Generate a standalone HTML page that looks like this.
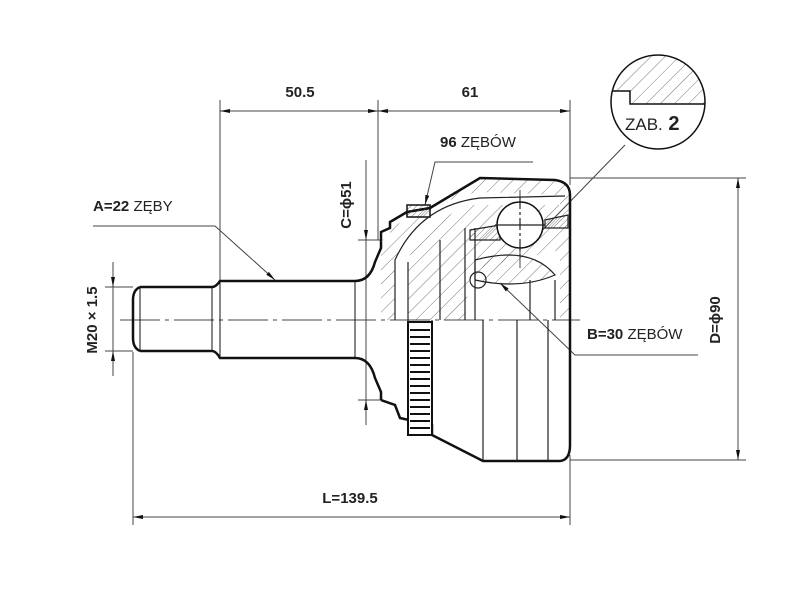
<!DOCTYPE html>
<html><head><meta charset="utf-8"><style>
html,body{margin:0;padding:0;background:#fff;}
svg{display:block}
text{font-family:"Liberation Sans Narrow","Liberation Sans",sans-serif;fill:#222}
</style></head><body>
<svg width="800" height="600" viewBox="0 0 800 600" xmlns="http://www.w3.org/2000/svg">
<defs>
<pattern id="h" width="10" height="10" patternUnits="userSpaceOnUse" patternTransform="rotate(45)">
<line x1="0" y1="0" x2="0" y2="10" stroke="#555" stroke-width="0.8"/></pattern>
<pattern id="h2" width="4" height="4" patternUnits="userSpaceOnUse" patternTransform="rotate(45)">
<line x1="0" y1="0" x2="0" y2="4" stroke="#555" stroke-width="0.8"/></pattern>
<marker id="a" viewBox="0 0 10 6" refX="10" refY="3" markerWidth="10" markerHeight="6" orient="auto-start-reverse"><path d="M0,1 L10,3 L0,5z" fill="#111"/></marker>
</defs>
<rect width="800" height="600" fill="#fff"/>
<g stroke="#444" stroke-width="1" fill="none">
<!-- extension lines -->
<line x1="220" y1="100" x2="220" y2="280"/>
<line x1="378" y1="100" x2="378" y2="240"/>
<line x1="570" y1="100" x2="570" y2="185"/>
<line x1="133" y1="352" x2="133" y2="525"/>
<line x1="570" y1="455" x2="570" y2="525"/>
<line x1="570" y1="178" x2="746" y2="178"/>
<line x1="570" y1="460" x2="746" y2="460"/>
<line x1="105" y1="287" x2="133" y2="287"/>
<line x1="105" y1="351" x2="133" y2="351"/>
<line x1="358" y1="240" x2="381" y2="240"/>
<line x1="358" y1="400" x2="381" y2="400"/>
<!-- dimension lines -->
<line x1="220" y1="111" x2="378" y2="111" marker-start="url(#a)" marker-end="url(#a)"/>
<line x1="378" y1="111" x2="570" y2="111" marker-start="url(#a)" marker-end="url(#a)"/>
<line x1="133" y1="517" x2="570" y2="517" marker-start="url(#a)" marker-end="url(#a)"/>
<line x1="738" y1="178" x2="738" y2="460" marker-start="url(#a)" marker-end="url(#a)"/>
<line x1="113" y1="262" x2="113" y2="287" marker-end="url(#a)"/>
<line x1="113" y1="376" x2="113" y2="351" marker-end="url(#a)"/>
<line x1="113" y1="287" x2="113" y2="351"/>
<line x1="366" y1="160" x2="366" y2="240" marker-end="url(#a)"/>
<line x1="366" y1="425" x2="366" y2="400" marker-end="url(#a)"/>
<line x1="366" y1="240" x2="366" y2="400"/>
<!-- leaders -->
<polyline points="93,226 215,226 275,280" marker-end="url(#a)"/>
<polyline points="533,162 435,162 425,205" marker-end="url(#a)"/>
<polyline points="698,355 575,355 500,283" marker-end="url(#a)"/>
<line x1="528" y1="245" x2="625" y2="145"/>
<!-- centerline -->
<line x1="120" y1="320" x2="580" y2="320" stroke-dasharray="40,5,4,5"/>
<line x1="520" y1="190" x2="520" y2="270" stroke-dasharray="20,3,3,3"/>
</g>
<!-- shaft -->
<g stroke="#111" stroke-width="2.5" fill="none">
<path d="M140,287 L212,287 Q216,287 220,281 L355,281 Q370,281 375,262 L381,248 L381,240 M140,351 L212,351 Q216,351 220,358 L355,358 Q370,358 375,378 L381,392 L381,400"/>
<path d="M140,287 Q133,290 133,300 L133,338 Q133,348 140,351"/>
<line x1="140" y1="287" x2="140" y2="351" stroke-width="1"/>
<line x1="212" y1="287" x2="212" y2="351" stroke-width="1"/>
<line x1="220" y1="281" x2="220" y2="358" stroke-width="1"/>
<line x1="355" y1="281" x2="355" y2="358" stroke-width="1"/>
</g>
<!-- housing upper hatched section -->
<path d="M381,240 L390,238 L390,225 L407,222 L407,212 L430,208 L480,178 L555,180 L570,187 L570,320 L560,320 L560,250 L470,270 L465,320 L408,320 L408,260 Q420,225 470,205 L560,205 L560,195 L480,192 Q420,200 395,260 L395,320 L381,320 Z" fill="url(#h)" stroke="none"/>
<path d="M381,240 L381,232 L390,228 L390,222 L407,212 L430,208 L480,178 L555,180 Q570,182 570,195 L570,445 Q570,460 560,461 L483,461 L432,435 L432,425 L400,418 L395,405 L381,400" stroke="#111" stroke-width="2.5" fill="none"/>
<rect x="407" y="205" width="23" height="12" fill="url(#h2)" stroke="#111" stroke-width="1.5"/>
<!-- inner section -->
<g stroke="#222" stroke-width="1.2" fill="none">
<path d="M395,320 L395,260 Q420,205 480,198 L565,196"/>
<line x1="408" y1="262" x2="408" y2="435"/>
<line x1="440" y1="240" x2="440" y2="320"/>
<line x1="465" y1="228" x2="465" y2="320"/>
<line x1="475" y1="228" x2="475" y2="320"/>
<line x1="483" y1="320" x2="483" y2="461"/>
<line x1="517" y1="320" x2="517" y2="461"/>
<line x1="548" y1="320" x2="548" y2="461"/>
<line x1="530" y1="280" x2="530" y2="320"/>
<line x1="555" y1="280" x2="555" y2="320"/>
<line x1="432" y1="320" x2="432" y2="435"/>
<path d="M475,260 Q530,245 555,275 Q520,290 475,280 Z" fill="url(#h)"/>
<path d="M470,230 L500,225 L500,240 L470,240 Z" fill="url(#h2)"/>
<path d="M545,220 L568,215 L568,228 L545,228 Z" fill="url(#h2)"/>
<circle cx="520" cy="225" r="23" fill="#fff" stroke="#111" stroke-width="1.5"/>
<line x1="520" y1="197" x2="520" y2="255" stroke-dasharray="12,3,3,3"/>
<line x1="495" y1="225" x2="545" y2="225"/>
<circle cx="478" cy="280" r="8"/>
</g>
<!-- ABS ring -->
<rect x="408" y="322" width="24" height="113" fill="#fff" stroke="#111" stroke-width="2"/>
<g stroke="#111" stroke-width="2">
<line x1="410" y1="330" x2="430" y2="330"/><line x1="410" y1="337" x2="430" y2="337"/><line x1="410" y1="344" x2="430" y2="344"/><line x1="410" y1="351" x2="430" y2="351"/><line x1="410" y1="358" x2="430" y2="358"/><line x1="410" y1="365" x2="430" y2="365"/><line x1="410" y1="372" x2="430" y2="372"/><line x1="410" y1="379" x2="430" y2="379"/><line x1="410" y1="386" x2="430" y2="386"/><line x1="410" y1="393" x2="430" y2="393"/><line x1="410" y1="400" x2="430" y2="400"/><line x1="410" y1="407" x2="430" y2="407"/><line x1="410" y1="414" x2="430" y2="414"/><line x1="410" y1="421" x2="430" y2="421"/><line x1="410" y1="428" x2="430" y2="428"/>
</g>
<!-- ZAB circle -->
<clipPath id="cc"><circle cx="658" cy="102" r="47"/></clipPath>
<path d="M605,50 L720,50 L720,104 L630,104 L630,92 L615,92 L615,50 Z" fill="url(#h)" clip-path="url(#cc)"/>
<path d="M611,91 L630,91 L630,104 L705,104" stroke="#111" stroke-width="1.5" fill="none" clip-path="url(#cc)"/>
<circle cx="658" cy="102" r="47" fill="none" stroke="#111" stroke-width="1.5"/>
<!-- texts -->
<text x="300" y="97" font-size="15" text-anchor="middle" font-weight="bold">50.5</text>
<text x="470" y="97" font-size="15" text-anchor="middle" font-weight="bold">61</text>
<text x="440" y="147" font-size="15"><tspan font-weight="bold">96</tspan> ZĘBÓW</text>
<text x="93" y="211" font-size="15"><tspan font-weight="bold">A=22</tspan> ZĘBY</text>
<text x="587" y="339" font-size="15"><tspan font-weight="bold">B=30</tspan> ZĘBÓW</text>
<text x="350" y="503" font-size="15" text-anchor="middle" font-weight="bold">L=139.5</text>
<text x="625" y="130" font-size="17">ZAB.<tspan font-weight="bold" font-size="20"> 2</tspan></text>
<text transform="translate(351,205) rotate(-90)" font-size="15" text-anchor="middle" font-weight="bold">C=ϕ51</text>
<text transform="translate(97,320) rotate(-90)" font-size="15" text-anchor="middle" font-weight="bold">M20 × 1.5</text>
<text transform="translate(720,320) rotate(-90)" font-size="15" text-anchor="middle" font-weight="bold">D=ϕ90</text>
</svg>
</body></html>
